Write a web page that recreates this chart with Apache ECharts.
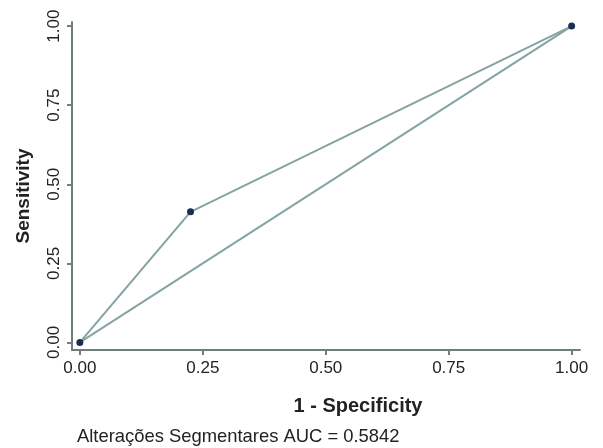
<!DOCTYPE html>
<html>
<head>
<meta charset="utf-8">
<script src="https://cdn.jsdelivr.net/npm/echarts@6/dist/echarts.min.js"></script>
<style>html,body{margin:0;padding:0;background:#fff}#c{width:603px;height:448px}</style>
</head>
<body>
<div id="c"></div>
<script>
const fprValues = [0, 0.225, 1];
const sensValues = [0, 0.413, 1];
const refLine = [[0, 0], [1, 1]];
const tickValues = [0, 0.25, 0.5, 0.75, 1];
const xTitle = '1 - Specificity';
const yTitle = 'Sensitivity';
const footnote = 'Alterações Segmentares AUC = 0.5842';

const FONT = '"Liberation Sans", Arial, Helvetica, sans-serif';
const axisColor = '#6f7d7d';
const lineColor = '#86a3a3';

const chart = echarts.init(document.getElementById('c'), null, {renderer: 'canvas'});
const axisCommon = {
  type: 'value',
  axisLine: {show: true, onZero: false, lineStyle: {color: axisColor, width: 2}},
  axisTick: {show: true, customValues: tickValues, length: 5, lineStyle: {color: axisColor, width: 2}},
  splitLine: {show: false},
  axisLabel: {customValues: tickValues, formatter: v => v.toFixed(2), color: '#222', fontFamily: FONT, fontSize: 17}
};
chart.setOption({
  animation: false,
  backgroundColor: '#fff',
  grid: {left: 72, right: 23, top: 22, bottom: 98, containLabel: false},
  xAxis: Object.assign({}, axisCommon, {min: -0.016, max: 1.017,
    axisLabel: Object.assign({}, axisCommon.axisLabel, {margin: 10})}),
  yAxis: Object.assign({}, axisCommon, {min: -0.024, max: 1.013,
    axisLabel: Object.assign({}, axisCommon.axisLabel, {rotate: 90, margin: 9})}),
  graphic: [
    {type: 'text', x: 358, y: 406, style: {text: xTitle, font: 'bold 20px ' + FONT, fill: '#222', align: 'center', verticalAlign: 'middle'}},
    {type: 'text', x: 24, y: 196, rotation: Math.PI / 2, style: {text: yTitle, font: 'bold 19px ' + FONT, fill: '#222', align: 'center', verticalAlign: 'middle'}},
    {type: 'text', x: 77, y: 437, style: {text: footnote, font: '18.4px ' + FONT, fill: '#222', align: 'left', verticalAlign: 'middle'}}
  ],
  series: [
    {type: 'line', data: refLine, symbol: 'none', lineStyle: {color: lineColor, width: 2}, z: 2},
    {type: 'line', data: fprValues.map((x, i) => [x, sensValues[i]]), symbol: 'circle', symbolSize: 7,
     itemStyle: {color: '#1c2d4f'}, lineStyle: {color: lineColor, width: 2}, z: 3}
  ]
});
</script>
</body>
</html>
